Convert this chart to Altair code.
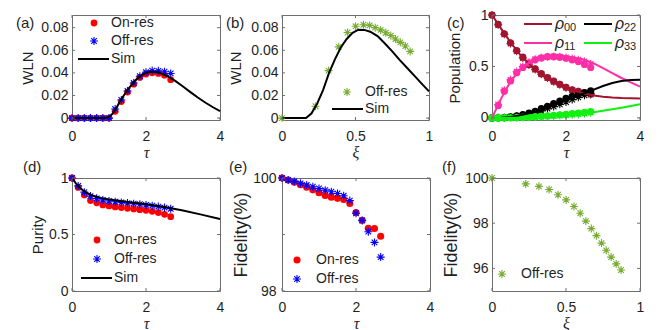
import altair as alt
import pandas as pd

# ---------------- data ----------------
tau_pts = [0, 0.167, 0.333, 0.5, 0.667, 0.833, 1.0, 1.167, 1.333, 1.5, 1.667,
           1.833, 2.0, 2.167, 2.333, 2.5, 2.667]

# (a) WLN vs tau
wln_on = [0, 0, 0, 0, 0, 0, 0, 0.006, 0.0146, 0.023, 0.030, 0.036, 0.039, 0.040, 0.0395, 0.038, 0.034]
wln_off = [0, 0, 0, 0, 0, 0, 0, 0.008, 0.016, 0.024, 0.031, 0.037, 0.0405, 0.042, 0.0418, 0.041, 0.0395]
wln_sim_t = [0, 0.9, 1.0, 1.1, 1.2, 1.3, 1.4, 1.5, 1.6, 1.7, 1.8, 1.9, 2.0, 2.1, 2.2, 2.3, 2.4,
             2.6, 2.8, 3.0, 3.2, 3.4, 3.6, 3.8, 4.0]
wln_sim = [0, 0, 0.001, 0.004, 0.009, 0.015, 0.020, 0.025, 0.029, 0.033, 0.036, 0.0385, 0.040,
           0.0408, 0.041, 0.0405, 0.0397, 0.0367, 0.0327, 0.028, 0.023, 0.0182, 0.0138, 0.0098, 0.0062]

# (b) WLN vs xi
xi_pts = [0, 0.228, 0.317, 0.386, 0.446, 0.501, 0.554, 0.596, 0.634, 0.671, 0.706,
          0.740, 0.772, 0.805, 0.839, 0.872]
wln_xi_off = [0, 0.0105, 0.042, 0.063, 0.0757, 0.0812, 0.0826, 0.082, 0.080, 0.078, 0.0755,
              0.073, 0.070, 0.067, 0.0638, 0.059]
xi_sim = [0, 0.163, 0.2, 0.24, 0.28, 0.32, 0.36, 0.40, 0.44, 0.48, 0.52, 0.56, 0.60, 0.65,
          0.70, 0.75, 0.80, 0.85, 0.90, 0.95, 1.0]
wln_xi_sim = [0, 0, 0.004, 0.013, 0.025, 0.040, 0.052, 0.0625, 0.070, 0.0755, 0.0782, 0.078,
              0.0764, 0.0725, 0.066, 0.059, 0.0515, 0.0445, 0.0375, 0.0305, 0.0236]

# (c) populations
pop_sim_t = [0, 0.25, 0.5, 0.75, 1.0, 1.25, 1.5, 1.75, 2.0, 2.25, 2.5, 2.75, 3.0, 3.25, 3.5, 3.75, 4.0]
rho00_sim = [1.0, 0.865, 0.735, 0.62, 0.525, 0.445, 0.385, 0.335, 0.295, 0.262, 0.237, 0.218,
             0.205, 0.198, 0.194, 0.192, 0.19]
rho11_sim = [0, 0.19, 0.355, 0.465, 0.535, 0.57, 0.59, 0.597, 0.595, 0.585, 0.565, 0.53,
             0.483, 0.435, 0.388, 0.345, 0.305]
rho22_sim = [0, 0.002, 0.01, 0.025, 0.045, 0.07, 0.1, 0.135, 0.17, 0.205, 0.24, 0.275,
             0.31, 0.34, 0.358, 0.368, 0.372]
rho33_sim = [0, 0, 0.001, 0.003, 0.006, 0.01, 0.015, 0.021, 0.028, 0.036, 0.045, 0.056,
             0.069, 0.084, 0.1, 0.117, 0.134]
rho00_on = [1.0, 0.908, 0.818, 0.73, 0.655, 0.59, 0.52, 0.476, 0.43, 0.393, 0.357, 0.327,
            0.298, 0.274, 0.259, 0.244, 0.232]
rho00_off = [1.0, 0.905, 0.812, 0.722, 0.648, 0.582, 0.515, 0.47, 0.425, 0.388, 0.352, 0.322,
             0.294, 0.27, 0.255, 0.24, 0.228]
rho11_on = [0, 0.12, 0.26, 0.36, 0.44, 0.49, 0.535, 0.565, 0.583, 0.595, 0.595, 0.59, 0.58,
            0.565, 0.548, 0.52, 0.49]
rho11_off = [0, 0.13, 0.27, 0.37, 0.45, 0.50, 0.54, 0.57, 0.585, 0.595, 0.598, 0.595, 0.588,
             0.578, 0.565, 0.548, 0.525]
rho22_on = [0, 0.001, 0.004, 0.01, 0.02, 0.033, 0.048, 0.065, 0.09, 0.113, 0.14, 0.163, 0.19,
            0.21, 0.23, 0.247, 0.262]
rho22_off = [0, 0.001, 0.003, 0.008, 0.016, 0.026, 0.038, 0.052, 0.07, 0.09, 0.11, 0.132,
             0.155, 0.178, 0.2, 0.22, 0.24]
rho33_on = [0, 0, 0.001, 0.002, 0.004, 0.006, 0.009, 0.012, 0.016, 0.02, 0.025, 0.03, 0.035,
            0.041, 0.047, 0.054, 0.062]
rho33_off = [0, 0, 0.001, 0.002, 0.003, 0.005, 0.007, 0.009, 0.012, 0.015, 0.019, 0.023, 0.027,
             0.032, 0.037, 0.043, 0.05]

# (d) purity
pur_on = [1.0, 0.917, 0.85, 0.80, 0.78, 0.762, 0.753, 0.744, 0.738, 0.732, 0.726, 0.72, 0.714,
          0.705, 0.694, 0.679, 0.658]
pur_off = [1.0, 0.93, 0.875, 0.84, 0.82, 0.806, 0.797, 0.79, 0.784, 0.778, 0.773, 0.768, 0.762,
           0.755, 0.747, 0.738, 0.728]
pur_sim_t = [0, 0.1, 0.2, 0.3, 0.4, 0.5, 0.6, 0.8, 1.0, 1.25, 1.5, 2.0, 2.5, 3.0, 3.5, 4.0]
pur_sim = [1.0, 0.955, 0.918, 0.89, 0.868, 0.852, 0.84, 0.822, 0.81, 0.798, 0.788, 0.768, 0.744,
           0.712, 0.676, 0.638]

# (e) fidelity vs tau
fid_on = [100, 99.965, 99.925, 99.88, 99.835, 99.79, 99.74, 99.69, 99.66, 99.64, 99.62, 99.55,
          99.39, 99.25, 99.11, 99.105, 98.97]
fid_off = [100, 99.965, 99.94, 99.905, 99.875, 99.845, 99.815, 99.785, 99.756, 99.726, 99.685,
           99.6, 99.375, 99.25, 99.05, 98.86, 98.6]

# (f) fidelity vs xi
fid_xi_off = [100, 99.74, 99.63, 99.49, 99.26, 99.03, 98.74, 98.44, 98.09, 97.76, 97.45, 97.12,
              96.8, 96.5, 96.2, 95.93]

# tick values
tau_ticks = [0, 2, 4]
xi_ticks = [0, 0.5, 1]
wln_ticks = [0, 0.02, 0.04, 0.06, 0.08]
unit_ticks = [0, 0.5, 1]
fid_ticks = [98, 99, 100]
fid_xi_ticks = [96, 98, 100]

# ---------------- style ----------------
FONT = "Liberation Sans"
SERIF = "Liberation Serif"
TXT = "#1f1f1f"
FRAME = "#6e6e6e"
RED = "#ff0000"
BLUE = "#0000ff"
OLIVE = "#77ac30"
C00 = "#a2142f"
C11 = "#ff2fa8"
C22 = "#000000"
C33 = "#12f012"
STAR = "M-1,0L1,0M0,-1L0,1M-0.7,-0.7L0.7,0.7M-0.7,0.7L0.7,-0.7"
H1, H2 = 105, 113
CIRC, STARSZ = 46, 64
one = pd.DataFrame({"d": [0]})


def mk_scales(xd, yd):
    return (alt.Scale(domain=xd, nice=False, zero=False),
            alt.Scale(domain=yd, nice=False, zero=False))


def mk_axes(xvals, xtitle, yvals, yfmt, ytitle, w, h, ytx, ylp=4, ytsize=15):
    ax = alt.Axis(values=xvals, format="~g", title=xtitle, ticks=False, domain=False, grid=False,
                  labelFont=FONT, labelFontSize=14, labelColor=TXT, labelPadding=9,
                  labelFlush=False,
                  titleFont=SERIF, titleFontStyle="italic", titleFontWeight="normal",
                  titleFontSize=16, titleColor=TXT, titleX=w / 2, titleY=32,
                  titleBaseline="middle", titleAlign="center")
    ay = alt.Axis(values=yvals, format=yfmt, title=ytitle, ticks=False, domain=False, grid=False,
                  labelFont=FONT, labelFontSize=14, labelColor=TXT, labelPadding=ylp,
                  titleFont=FONT, titleFontWeight="normal", titleFontSize=ytsize, titleColor=TXT,
                  titleX=ytx, titleY=h / 2, titleBaseline="middle", titleAlign="center",
                  titleAngle=270)
    return ax, ay


def tick_layers(xvals, yvals, xs, ys, ax, ay, w, h):
    tx = pd.DataFrame({"v": xvals})
    ty = pd.DataFrame({"v": yvals})
    r = dict(color=FRAME, strokeWidth=1)
    return [
        alt.Chart(tx).mark_rule(**r).encode(x=alt.X("v:Q", scale=xs, axis=ax),
                                            y=alt.value(h), y2=alt.value(h - 3)),
        alt.Chart(tx).mark_rule(**r).encode(x=alt.X("v:Q", scale=xs, axis=ax),
                                            y=alt.value(0), y2=alt.value(3)),
        alt.Chart(ty).mark_rule(**r).encode(y=alt.Y("v:Q", scale=ys, axis=ay),
                                            x=alt.value(0), x2=alt.value(3)),
        alt.Chart(ty).mark_rule(**r).encode(y=alt.Y("v:Q", scale=ys, axis=ay),
                                            x=alt.value(w), x2=alt.value(w - 3)),
    ]


def pts(x, y, color, kind, xs, ys, ax, ay, size=None):
    df = pd.DataFrame({"x": x, "y": y})
    if kind == "o":
        m = alt.Chart(df).mark_point(shape="circle", filled=True, color=color,
                                     size=size or CIRC, opacity=1, strokeWidth=0)
    else:
        m = alt.Chart(df).mark_point(shape=STAR, filled=False, color=color,
                                     size=size or STARSZ, opacity=1, strokeWidth=1.1)
    return m.encode(x=alt.X("x:Q", scale=xs, axis=ax), y=alt.Y("y:Q", scale=ys, axis=ay))


def line(x, y, color, xs, ys, ax, ay):
    df = pd.DataFrame({"x": x, "y": y})
    return alt.Chart(df).mark_line(color=color, strokeWidth=2).encode(
        x=alt.X("x:Q", scale=xs, axis=ax), y=alt.Y("y:Q", scale=ys, axis=ay))


def txt(s, x, y, size=14, font=FONT, style="normal"):
    return alt.Chart(one).mark_text(text=s, font=font, fontSize=size, fontStyle=style,
                                    align="left", baseline="middle", color=TXT).encode(
        x=alt.value(x), y=alt.value(y))


def lsym(kind, color, x, y, size=None):
    if kind == "o":
        m = alt.Chart(one).mark_point(shape="circle", filled=True, color=color,
                                      size=size or CIRC, opacity=1, strokeWidth=0)
    else:
        m = alt.Chart(one).mark_point(shape=STAR, filled=False, color=color,
                                      size=size or STARSZ, opacity=1, strokeWidth=1.1)
    return m.encode(x=alt.value(x), y=alt.value(y))


def lseg(x1, x2, y, color):
    return alt.Chart(one).mark_rule(color=color, strokeWidth=2).encode(
        x=alt.value(x1), x2=alt.value(x2), y=alt.value(y))


# ---------------- panels ----------------
def panel_a():
    w, h = 148, H1
    xs, ys = mk_scales([0, 4], [-0.0017, 0.0912])
    ax, ay = mk_axes(tau_ticks, "τ", wln_ticks, ".2~f", "WLN", w, h, -45)
    layers = [
        pts(tau_pts, wln_on, RED, "o", xs, ys, ax, ay),
        pts(tau_pts, wln_off, BLUE, "*", xs, ys, ax, ay),
        line(wln_sim_t, wln_sim, "black", xs, ys, ax, ay),
    ] + tick_layers(tau_ticks, wln_ticks, xs, ys, ax, ay, w, h) + [
        lsym("o", RED, 22, 8), txt("On-res", 39, 8),
        lsym("*", BLUE, 22, 26), txt("Off-res", 39, 26),
        lseg(6, 37, 44, "black"), txt("Sim", 39, 44),
        txt("(a)", -56, 8, size=15),
    ]
    return alt.layer(*layers).properties(width=w, height=h)


def panel_b():
    w, h = 147, H1
    xs, ys = mk_scales([0, 1], [-0.0017, 0.0912])
    ax, ay = mk_axes(xi_ticks, "ξ", wln_ticks, ".2~f", "WLN", w, h, -47)
    layers = [
        pts(xi_pts, wln_xi_off, OLIVE, "*", xs, ys, ax, ay),
        line(xi_sim, wln_xi_sim, "black", xs, ys, ax, ay),
    ] + tick_layers(xi_ticks, wln_ticks, xs, ys, ax, ay, w, h) + [
        lsym("*", OLIVE, 65, h - 28), txt("Off-res", 83, h - 28),
        lseg(50, 81, h - 11, "black"), txt("Sim", 83, h - 11),
        txt("(b)", -56, 8, size=15),
    ]
    return alt.layer(*layers).properties(width=w, height=h)


def panel_c():
    w, h = 148, H1
    xs, ys = mk_scales([0, 4], [-0.02, 1.0])
    ax, ay = mk_axes(tau_ticks, "τ", unit_ticks, "~g", "Population", w, h, -38)
    layers = []
    for on, off, col in [(rho00_on, rho00_off, C00), (rho11_on, rho11_off, C11),
                         (rho22_on, rho22_off, C22), (rho33_on, rho33_off, C33)]:
        layers.append(pts(tau_pts, on, col, "o", xs, ys, ax, ay, size=52))
        layers.append(pts(tau_pts, off, col, "*", xs, ys, ax, ay, size=64))
    for sim, col in [(rho00_sim, C00), (rho11_sim, C11), (rho22_sim, C22), (rho33_sim, C33)]:
        layers.append(line(pop_sim_t, sim, col, xs, ys, ax, ay))
    layers += tick_layers(tau_ticks, unit_ticks, xs, ys, ax, ay, w, h)
    for (lx, ly, col, sub) in [(32, 9, C00, "00"), (32, 28, C11, "11"),
                               (92, 9, C22, "22"), (92, 28, C33, "33")]:
        layers.append(lseg(lx, lx + 28, ly, col))
        layers.append(txt("ρ", lx + 31, ly, size=16, style="italic"))
        layers.append(txt(sub, lx + 40, ly + 4, size=11))
    layers.append(txt("(c)", -45, 8, size=15))
    return alt.layer(*layers).properties(width=w, height=h)


def panel_d():
    w, h = 148, H2
    xs, ys = mk_scales([0, 4], [0, 1])
    ax, ay = mk_axes(tau_ticks, "τ", unit_ticks, "~g", "Purity", w, h, -35)
    layers = [
        pts(tau_pts, pur_on, RED, "o", xs, ys, ax, ay),
        pts(tau_pts, pur_off, BLUE, "*", xs, ys, ax, ay),
        line(pur_sim_t, pur_sim, "black", xs, ys, ax, ay),
    ] + tick_layers(tau_ticks, unit_ticks, xs, ys, ax, ay, w, h) + [
        lsym("o", RED, 25, 62), txt("On-res", 42, 62),
        lsym("*", BLUE, 25, 81), txt("Off-res", 42, 81),
        lseg(9, 40, 100, "black"), txt("Sim", 42, 100),
        txt("(d)", -49, -11, size=15),
    ]
    return alt.layer(*layers).properties(width=w, height=h)


def panel_e():
    w, h = 148, H2
    xs, ys = mk_scales([0, 4], [98, 100])
    ax, ay = mk_axes(tau_ticks, "τ", fid_ticks, "d", "Fidelity(%)", w, h, -41, ylp=6, ytsize=18)
    layers = [
        pts(tau_pts, fid_on, RED, "o", xs, ys, ax, ay, size=50),
        pts(tau_pts, fid_off, BLUE, "*", xs, ys, ax, ay),
    ] + tick_layers(tau_ticks, fid_ticks, xs, ys, ax, ay, w, h) + [
        lsym("o", RED, 15, 82, size=50), txt("On-res", 34, 82),
        lsym("*", BLUE, 15, 101), txt("Off-res", 34, 101),
        txt("(e)", -53, -11, size=15),
    ]
    return alt.layer(*layers).properties(width=w, height=h)


def panel_f():
    w, h = 148, H2
    xs, ys = mk_scales([0, 1], [95, 100])
    ax, ay = mk_axes(xi_ticks, "ξ", fid_xi_ticks, "d", "Fidelity(%)", w, h, -41, ytsize=18)
    layers = [
        pts(xi_pts, fid_xi_off, OLIVE, "*", xs, ys, ax, ay),
    ] + tick_layers(xi_ticks, fid_xi_ticks, xs, ys, ax, ay, w, h) + [
        lsym("*", OLIVE, 10, 96), txt("Off-res", 29, 96),
        txt("(f)", -50, -11, size=15),
    ]
    return alt.layer(*layers).properties(width=w, height=h)


chart = alt.concat(
    panel_a(), panel_b(), panel_c(), panel_d(), panel_e(), panel_f(),
    columns=3, spacing=alt.RowColnumber(row=58, column=62), bounds="flush",
).resolve_scale(x="independent", y="independent").properties(
    padding={"left": 7, "top": -1, "right": 0, "bottom": 0}
).configure(
    font=FONT, background="white",
    view=alt.ViewConfig(stroke=FRAME, strokeWidth=1),
)

chart.save("out.html", embed_options={"renderer": "svg", "actions": False})
